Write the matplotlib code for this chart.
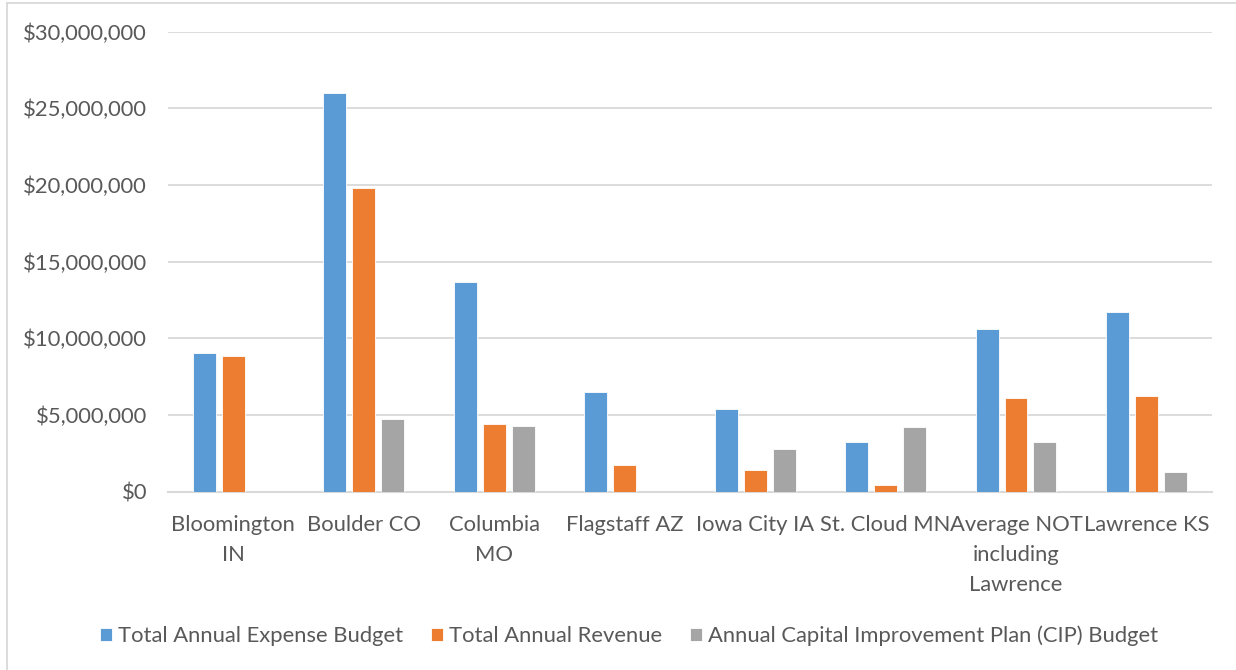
import matplotlib
matplotlib.use("Agg")
import matplotlib.pyplot as plt
from matplotlib.lines import Line2D
from matplotlib.ticker import FuncFormatter, MultipleLocator
import numpy as np

plt.rcParams['font.family'] = ['Lato', 'DejaVu Sans']

categories = ["Bloomington\nIN", "Boulder CO", "Columbia\nMO", "Flagstaff AZ",
              "Iowa City IA", "St. Cloud MN", "Average NOT\nincluding\nLawrence",
              "Lawrence KS"]
expense_budget = [9.03e6, 26.0e6, 13.7e6, 6.48e6, 5.39e6, 3.22e6, 10.63e6, 11.74e6]
annual_revenue = [8.87e6, 19.81e6, 4.44e6, 1.74e6, 1.41e6, 0.44e6, 6.13e6, 6.22e6]
cip_budget = [0, 4.74e6, 4.28e6, 0, 2.76e6, 4.2e6, 3.22e6, 1.28e6]
series_names = ["Total Annual Expense Budget", "Total Annual Revenue",
                "Annual Capital Improvement Plan (CIP) Budget"]
colors = ["#5B9BD5", "#ED7D31", "#A5A5A5"]

W, H = 1236, 670
fig = plt.figure(figsize=(W / 100, H / 100), dpi=100)
ax = fig.add_axes([168 / W, 1 - 491.7 / H, (1211.7 - 168) / W, (491.7 - 31.7) / H])

x = np.arange(len(categories))
pitch = 0.222
width = 0.176
for i, (vals, name, c) in enumerate(zip([expense_budget, annual_revenue, cip_budget],
                                        series_names, colors)):
    ax.bar(x + (i - 1) * pitch, vals, width, color=c, label=name,
           edgecolor="white", linewidth=0.6, zorder=3)

fs = 15.8
ax.set_xlim(-0.5, len(categories) - 0.5)
ax.set_ylim(0, 30e6)
ax.yaxis.set_major_locator(MultipleLocator(5e6))
ax.yaxis.set_major_formatter(FuncFormatter(lambda v, p: f"${v:,.0f}"))
ax.grid(axis="y", color="#D9D9D9", linewidth=1.3, zorder=0)
ax.set_axisbelow(True)
for s in ["top", "right", "left"]:
    ax.spines[s].set_visible(False)
ax.spines["bottom"].set_color("#D9D9D9")
ax.spines["bottom"].set_linewidth(1.5)
ax.tick_params(axis="both", length=0, colors="#595959", labelsize=fs)
ax.tick_params(axis="y", pad=15)
ax.tick_params(axis="x", pad=17)
ax.set_xticks(x)
ax.set_xticklabels(categories, linespacing=1.62)

leg = fig.legend(loc="center", bbox_to_anchor=(629 / W, 1 - 636 / H), ncol=3,
                 frameon=False, fontsize=fs, handlelength=0.55, handleheight=0.55,
                 handletextpad=0.25, columnspacing=1.3)
for t in leg.get_texts():
    t.set_color("#595959")

# chart frame
border = "#D9D9D9"
fig.add_artist(Line2D([7 / W, 7 / W], [0, 1 - 2.5 / H], transform=fig.transFigure,
                      color=border, linewidth=1.3))
fig.add_artist(Line2D([7 / W, 1], [1 - 2.5 / H, 1 - 2.5 / H], transform=fig.transFigure,
                      color=border, linewidth=1.3))

fig.savefig("out.png", dpi=100)
